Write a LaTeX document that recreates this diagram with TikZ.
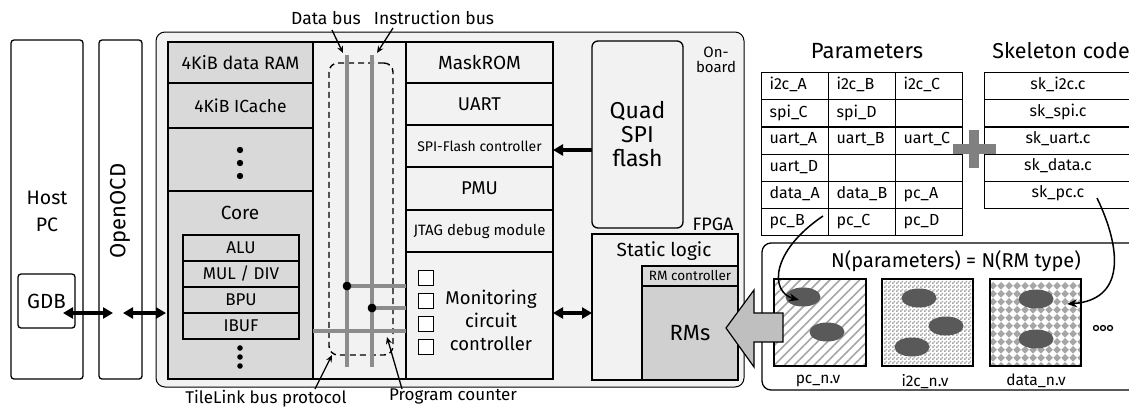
\documentclass[tikz,border=0pt]{standalone}
\usepackage{fontspec}
\setmainfont{Fira Sans}
\usetikzlibrary{arrows.meta,patterns.meta,shapes.geometric}
\definecolor{panel}{HTML}{F2F2F2}
\definecolor{blockgray}{HTML}{D9D9D9}
\definecolor{rmgray}{HTML}{D0D0D0}
\definecolor{busgray}{HTML}{8C8C8C}
\definecolor{blobgray}{HTML}{595959}
\definecolor{hatchgray}{HTML}{A6A6A6}
\definecolor{arrowgray}{HTML}{BFBFBF}
\definecolor{plusgray}{HTML}{808080}
% fine checkerboard fill of the i2c module
\tikzdeclarepattern{
  name=finechecker,
  type=uncolored,
  bounding box={(0pt,0pt) and (4pt,4pt)},
  tile size={(4pt,4pt)},
  code={
    \pgfpathrectangle{\pgfpointorigin}{\pgfpoint{2pt}{2pt}}
    \pgfpathrectangle{\pgfpoint{2pt}{2pt}}{\pgfpoint{2pt}{2pt}}
    \pgfusepath{fill}
  }
}
% rectangle node given by its corners: style, x1, y1, x2, y2, name
\newcommand{\mkbox}[6]{\node[#1, minimum width={#4pt-#2pt}, minimum height={#5pt-#3pt}] (#6) at ({(#2+#4)/2},{(#3+#5)/2})}
\newcommand{\fsz}[2]{\fontsize{#1}{#2}\selectfont}
\begin{document}
\begin{tikzpicture}[x=1pt,y=-1pt,
  txt/.style={inner sep=0pt, outer sep=0pt, align=center, font=\fsz{16}{19}},
  hostbox/.style={txt, draw, line width=1.3pt, rounded corners=3pt, fill=white},
  graybox/.style={txt, draw, line width=1.3pt, fill=blockgray},
  lightbox/.style={txt, draw, line width=1.3pt, fill=panel},
  pcell/.style={draw, line width=1.1pt, text width=51pt, inner xsep=8pt, inner ysep=0pt,
                minimum height=27.2pt, align=left, anchor=north west, font=\fsz{16}{17}},
  skcell/.style={draw, line width=1.1pt, minimum width=160pt, inner sep=0pt,
                minimum height=27.2pt, anchor=north west},
  bus/.style={busgray, line width=3.6pt},
  dot/.style={circle, fill=black, inner sep=0pt, minimum size=#1},
  lblarrow/.style={line width=1.3pt, -{Stealth[length=7pt,width=6pt]}},
  fattip/.style={line width=3.2pt, -{Triangle[length=10pt,width=11pt]}},
  thickarrow/.style={line width=3.2pt, {Triangle[length=10pt,width=11pt]}-{Triangle[length=10pt,width=11pt]}},
  curvearrow/.style={line width=1.5pt, -{Stealth[length=10pt,width=8pt]}},
  blob/.style={ellipse, fill=blobgray, minimum width=35pt, minimum height=19pt, inner sep=0pt},
]
\useasboundingbox (0,0) rectangle (1129,407);

% ---------------- host side ----------------
\mkbox{hostbox}{11}{40}{83}{379}{host}{};
\node[txt, font=\fsz{19.5}{27}] (hosttxt) at (47,211) {Host\\PC};
\mkbox{hostbox}{99}{40}{142}{379}{ocd}{};
\node[txt, rotate=90, font=\fsz{22}{24}] (ocdtxt) at (120,211) {OpenOCD};
\mkbox{hostbox, font=\fsz{20.5}{22}}{18}{274}{75}{328}{gdb}{GDB};

% ---------------- on-board panel ----------------
\mkbox{txt, draw, line width=1pt, fill=panel, rounded corners=9pt}{156}{32}{744}{387}{onboard}{};
\node[txt, font=\fsz{15}{15}] (onbtxt) at (716,60) {On-\\board};

% left column: memories and core
\mkbox{graybox, font=\fsz{18}{19}}{168}{42}{313}{83}{ram}{4KiB data RAM};
\mkbox{graybox, font=\fsz{17.5}{19}}{168}{83}{313}{128}{icache}{4KiB ICache};
\mkbox{graybox}{168}{128}{313}{191}{more}{};
\mkbox{graybox}{168}{191}{313}{379}{core}{};
\node[txt, font=\fsz{19}{20}] (coretxt) at (240,213) {Core};
\mkbox{graybox, font=\fsz{17}{17}}{183}{235}{299}{261}{alu}{ALU};
\mkbox{graybox, font=\fsz{17}{17}}{183}{261}{299}{287}{muldiv}{MUL / DIV};
\mkbox{graybox, font=\fsz{17}{17}}{183}{287}{299}{313}{bpu}{BPU};
\mkbox{graybox, font=\fsz{17}{17}}{183}{313}{299}{339}{ibuf}{IBUF};
\foreach \yy/\nm in {150/a,163/b,176/c} \node[dot=6.4pt] (vd\nm) at (240,\yy) {};
\foreach \yy/\nm in {348/a,357/b,366/c} \node[dot=5.6pt] (cd\nm) at (240,\yy) {};

% bus column
\mkbox{lightbox}{313}{42}{406}{379}{buscol}{};

% peripherals
\mkbox{lightbox, font=\fsz{19}{20}}{406}{42}{553}{83}{maskrom}{MaskROM};
\mkbox{lightbox, font=\fsz{18.5}{20}}{406}{83}{553}{125}{uart}{UART};
\mkbox{lightbox, font=\fsz{14}{16}}{406}{125}{553}{167}{spi}{SPI-Flash controller};
\mkbox{lightbox, font=\fsz{18.5}{20}}{406}{167}{553}{210}{pmu}{PMU};
\mkbox{lightbox, font=\fsz{15}{16}}{406}{210}{553}{252}{jtag}{JTAG debug module};
\mkbox{lightbox}{406}{252}{553}{379}{mon}{};
\foreach \yy/\nm in {278/a,301/b,324/c,347/d}
  \node[draw, fill=white, line width=1.3pt, minimum size=15pt, inner sep=0pt] (chk\nm) at (426,\yy) {};
\node[txt, font=\fsz{18.5}{23}] (montxt) at (491,320) {Monitoring\\circuit\\controller};

% FPGA outline
\mkbox{txt, draw, line width=2.4pt}{168}{42}{553}{379}{fpga}{};

% TileLink region and buses
\mkbox{txt, draw, dashed, dash pattern=on 6pt off 4pt, line width=1.4pt, rounded corners=9pt}{329}{63}{393}{355}{tilelink}{};
\coordinate (dbT) at (347,55);  \coordinate (dbB) at (347,367);
\coordinate (ibT) at (372,55);  \coordinate (ibB) at (372,367);
\coordinate (pcL) at (313,331); \coordinate (pcR) at (406,331);
\draw[bus] (dbT) -- (dbB);
\draw[bus] (ibT) -- (ibB);
\node[dot=8.5pt] (j1) at (347,286) {};
\node[dot=8.5pt] (j2) at (372,308) {};
\draw[bus] (j1.center) -- (j1.center -| mon.west);
\draw[bus] (j2.center) -- (j2.center -| mon.west);
\draw[bus] (pcL) -- (pcR);
\node[dot=8.5pt] at (347,286) {};
\node[dot=8.5pt] at (372,308) {};

% bus labels
\node[txt, font=\fsz{17.5}{19}] (dblbl) at (326,18) {Data bus};
\node[txt, font=\fsz{17.5}{19}] (iblbl) at (434,18) {Instruction bus};
\coordinate (dbarr) at (343,53);
\coordinate (ibarr) at (377,53);
\draw[lblarrow] (332,30) -- (dbarr);
\draw[lblarrow] (393,28) -- (ibarr);
\node[txt, font=\fsz{17}{18}] (tllbl) at (266,399) {TileLink bus protocol};
\node[txt, font=\fsz{17}{18}] (pclbl) at (453,396) {Program counter};
\coordinate (tlarr) at (332,355);
\coordinate (pcarr) at (387,337);
\draw[lblarrow] (315,389) -- (tlarr);
\draw[lblarrow] (402,389) -- (pcarr);

% flash and static logic
\mkbox{txt, draw, line width=1.3pt, rounded corners=6pt, fill=panel, font=\fsz{23}{24}}{592}{41}{683}{228}{flash}{Quad\\SPI\\flash};
\node[txt, font=\fsz{18}{19}] (fpgalbl) at (713,224) {FPGA};
\mkbox{lightbox}{592}{234}{738}{380}{static}{};
\node[txt, font=\fsz{19}{22}] (stattxt) at (664,251) {Static logic};
\mkbox{graybox, font=\fsz{13.5}{14}}{642}{266}{738}{286}{rmctl}{RM controller};
\mkbox{txt, draw, line width=1.3pt, fill=rmgray, font=\fsz{22}{25}}{642}{286}{738}{380}{rms}{RMs};

\coordinate (spiR) at (553,150);  \coordinate (flashL) at (592,150);
\draw[fattip] (flashL) -- (spiR);
\coordinate (monR) at (553,313);  \coordinate (statL) at (592,313);
\draw[thickarrow] (monR) -- (statL);

% host links
\coordinate (gdbA) at (63,313); \coordinate (ocdA) at (113,313);
\coordinate (ocdB) at (123,313); \coordinate (fpgaA) at (166,313);
\draw[thickarrow] (gdbA) -- (ocdA);
\draw[thickarrow] (ocdB) -- (fpgaA);

% ---------------- parameters and skeleton code ----------------
\node[txt, font=\fsz{22}{23}] (partitle) at (867,51) {Parameters};
\node[txt, font=\fsz{21.5}{23}] (sktitle) at (1061,51) {Skeleton code};
\foreach \r/\a/\b/\c in {0/i2c\_A/i2c\_B/i2c\_C, 1/spi\_C/spi\_D/, 2/uart\_A/uart\_B/uart\_C,
                         3/uart\_D//, 4/data\_A/data\_B/pc\_A, 5/pc\_B/pc\_C/pc\_D} {
  \node[pcell] (p\r a) at (761,72+27.2*\r) {\strut\a};
  \node[pcell] (p\r b) at (828,72+27.2*\r) {\strut\b};
  \node[pcell] (p\r c) at (895,72+27.2*\r) {\strut\c};
}
\foreach \r/\a in {0/sk\_i2c.c, 1/sk\_spi.c, 2/sk\_uart.c, 3/sk\_data.c, 4/sk\_pc.c} {
  \node[skcell] (s\r) at (984,72+27.2*\r) {};
  \node[txt, font=\fsz{16}{17}] (s\r t) at (1058,85.6+27.2*\r) {\strut\a};
}
% plus sign
\fill[plusgray] (953,144) rectangle (996,154);
\fill[plusgray] (969,130) rectangle (979,168);

% ---------------- reconfigurable module types ----------------
\mkbox{txt, draw, line width=1.3pt, fill=white, rounded corners=9pt}{762}{243}{1140}{390}{rmtypes}{};
\node[txt, font=\fsz{20}{22}] (rmtitle) at (956,261) {N(parameters) = N(RM type)};

\mkbox{txt, draw, line width=1.5pt, fill=white, pattern={Lines[angle=45,distance=7pt,line width=1.6pt]}, pattern color=hatchgray}{774}{279}{866}{366}{pcmod}{};
\mkbox{txt, draw, line width=1.5pt, fill=white}{882}{279}{973}{366}{i2cmod}{};
\fill[pattern=finechecker, pattern color=hatchgray] (882,279) rectangle (973,366);
\mkbox{txt, draw, line width=1.5pt, fill=white}{990}{279}{1081}{366}{datamod}{};
\begin{scope}
  \clip (990,279) rectangle (1081,366);
  \foreach \i in {0,...,11} \foreach \j in {0,...,11}
    \fill[hatchgray] ({993+8*\i},{282+8*\j}) -- ++(3.8,3.8) -- ++(-3.8,3.8) -- ++(-3.8,-3.8) -- cycle;
\end{scope}
\draw[line width=1.5pt] (pcmod.north west) rectangle (pcmod.south east);
\draw[line width=1.5pt] (i2cmod.north west) rectangle (i2cmod.south east);
\draw[line width=1.5pt] (datamod.north west) rectangle (datamod.south east);

\node[blob] (pcb1) at (803,297) {};
\node[blob] (pcb2) at (827,332) {};
\node[blob] (i2b1) at (919,298) {};
\node[blob] (i2b2) at (946,326) {};
\node[blob] (i2b3) at (912,347) {};
\node[blob] (dab1) at (1036,299) {};
\node[blob] (dab2) at (1036,339) {};

\node[txt, font=\fsz{15.5}{16}] (pcname) at (818,381) {pc\_n.v};
\node[txt, font=\fsz{15.5}{16}] (i2cname) at (925,382) {i2c\_n.v};
\node[txt, font=\fsz{15.5}{16}] (dataname) at (1036,381) {data\_n.v};
\foreach \xx/\nm in {1096/a,1103/b,1110/c}
  \node[circle, draw, line width=1.3pt, minimum size=5pt, inner sep=0pt] (etc\nm) at (\xx,328) {};

% reconfiguration arrow into the RMs
\draw[line width=1.2pt, fill=arrowgray] (726,328) -- (754,290) -- (754,313) -- (783,313)
  -- (783,342) -- (754,342) -- (754,367) -- cycle;

% parameter and skeleton feeding arrows
\coordinate (pcbsrc) at (823,216);
\coordinate (pcbdst) at (799,300);
\coordinate (sksrc) at (1097,198);
\coordinate (skdst) at (1067,304);
\draw[curvearrow] (pcbsrc) .. controls (770,252) and (770,292) .. (pcbdst);
\draw[curvearrow] (sksrc) .. controls (1122,250) and (1125,300) .. (skdst);
\end{tikzpicture}
\end{document}
